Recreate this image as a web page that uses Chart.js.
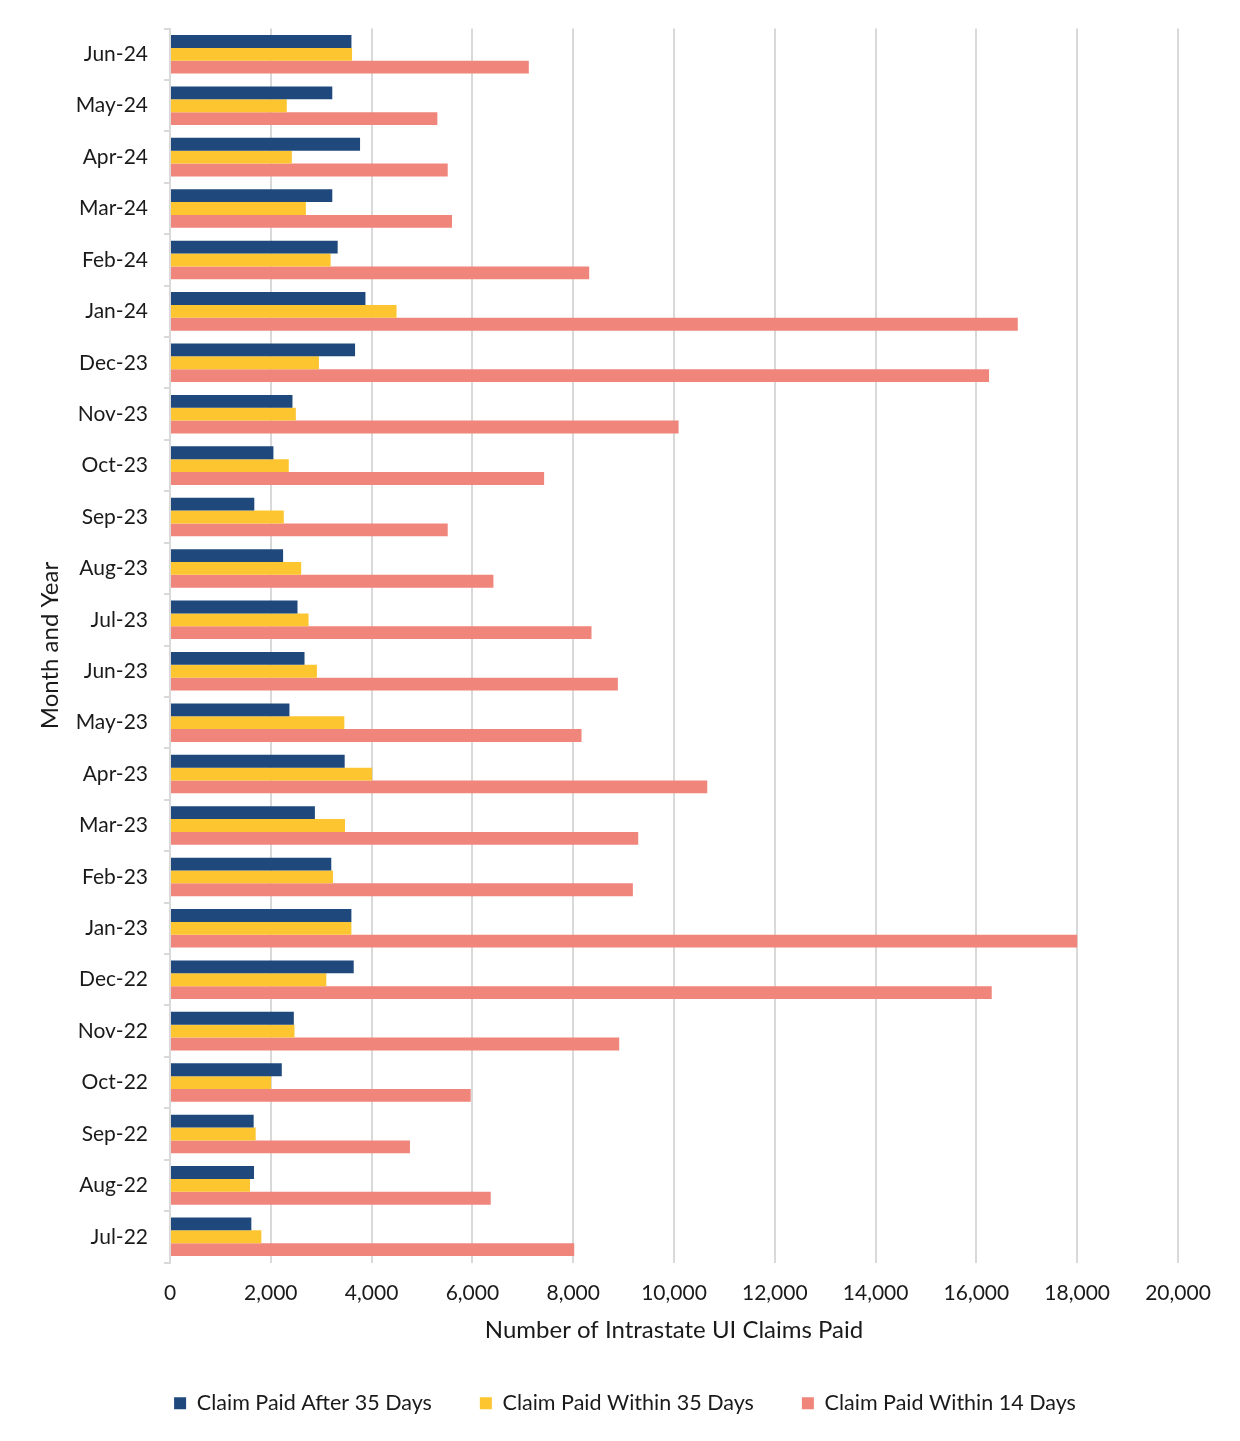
<!DOCTYPE html>
<html>
<head>
<meta charset="utf-8">
<title>Intrastate UI Claims Paid</title>
<script src="https://cdn.jsdelivr.net/npm/chart.js@4.4.1/dist/chart.umd.min.js"></script>
<style>
    html, body { margin: 0; padding: 0; background: #ffffff; }
</style>
</head>
<body>
<canvas id="claimsChart" width="1240" height="1441"></canvas>
<script>
// Months, oldest first (the y axis is reversed so Jun-24 sits on top)
const months = ['Jul-22', 'Aug-22', 'Sep-22', 'Oct-22', 'Nov-22', 'Dec-22',
    'Jan-23', 'Feb-23', 'Mar-23', 'Apr-23', 'May-23', 'Jun-23',
    'Jul-23', 'Aug-23', 'Sep-23', 'Oct-23', 'Nov-23', 'Dec-23',
    'Jan-24', 'Feb-24', 'Mar-24', 'Apr-24', 'May-24', 'Jun-24'];

const paidAfter35 = [1614, 1667, 1660, 2218, 2457, 3645,
    3599, 3200, 2875, 3466, 2370, 2669,
    2530, 2244, 1673, 2052, 2430, 3672,
    3878, 3327, 3220, 3771, 3220, 3600];

const paidWithin35 = [1813, 1587, 1700, 2005, 2470, 3101,
    3599, 3234, 3473, 4011, 3459, 2915,
    2749, 2603, 2258, 2357, 2497, 2955,
    4495, 3187, 2696, 2417, 2317, 3612];

const paidWithin14 = [8020, 6364, 4761, 5967, 8913, 16304,
    18000, 9184, 9290, 10660, 8165, 8886,
    8363, 6417, 5510, 7423, 10091, 16251,
    16821, 8317, 5596, 5510, 5305, 7119];

const xTicks = [0, 2000, 4000, 6000, 8000, 10000, 12000, 14000, 16000, 18000, 20000];

const seriesNames = ['Claim Paid After 35 Days', 'Claim Paid Within 35 Days', 'Claim Paid Within 14 Days'];

const FONT = "Lato, 'Open Sans', sans-serif";
const TEXT = '#1a1a1a';
const GRID = '#d9d9d9';

Chart.defaults.font.family = FONT;
Chart.defaults.color = TEXT;

// legend sits centred on the whole page, not on the padded box
const legendShift = {
    id: 'legendShift',
    afterLayout(chart) {
        const lg = chart.legend;
        if (!lg) return;
        lg.left += 18;
        lg.right += 18;
    }
};

new Chart(document.getElementById('claimsChart'), {
    type: 'bar',
    data: {
        labels: months,
        datasets: [
            { label: seriesNames[0], data: paidAfter35, backgroundColor: '#1f497d' },
            { label: seriesNames[1], data: paidWithin35, backgroundColor: '#fdc530' },
            { label: seriesNames[2], data: paidWithin14, backgroundColor: '#ef857b' }
        ]
    },
    options: {
        indexAxis: 'y',
        responsive: false,
        devicePixelRatio: 1,
        animation: false,
        datasets: {
            bar: { categoryPercentage: 0.75, barPercentage: 1.0 }
        },
        layout: { padding: { left: 36, right: 62, top: 28, bottom: 17 } },
        scales: {
            x: {
                min: 0,
                max: 20000,
                afterBuildTicks: (scale) => { scale.ticks = xTicks.map(v => ({ value: v })); },
                ticks: {
                    font: { size: 21 },
                    padding: 18,
                    maxRotation: 0,
                    callback: (v) => Number(v).toLocaleString('en-US')
                },
                grid: { color: GRID, lineWidth: 2, drawTicks: false },
                border: { display: false },
                title: {
                    display: true,
                    text: 'Number of Intrastate UI Claims Paid',
                    font: { size: 24 },
                    padding: { top: 12, bottom: 0 }
                },
                afterFit: (scale) => { scale.height = 82; }
            },
            y: {
                reverse: true,
                ticks: { font: { size: 21 }, padding: 16 },
                grid: { offset: true, drawOnChartArea: false, color: GRID, lineWidth: 2, tickLength: 6 },
                border: { color: GRID, width: 2 },
                title: {
                    display: true,
                    text: 'Month and Year',
                    font: { size: 24 },
                    padding: { top: 0, bottom: 12 }
                },
                afterFit: (scale) => { scale.width = 134; }
            }
        },
        plugins: {
            legend: {
                position: 'bottom',
                maxHeight: 97,
                labels: {
                    boxWidth: 12,
                    boxHeight: 12,
                    padding: 48,
                    font: { size: 21.5 }
                }
            },
            tooltip: { enabled: false }
        }
    },
    plugins: [legendShift]
});
</script>
</body>
</html>
